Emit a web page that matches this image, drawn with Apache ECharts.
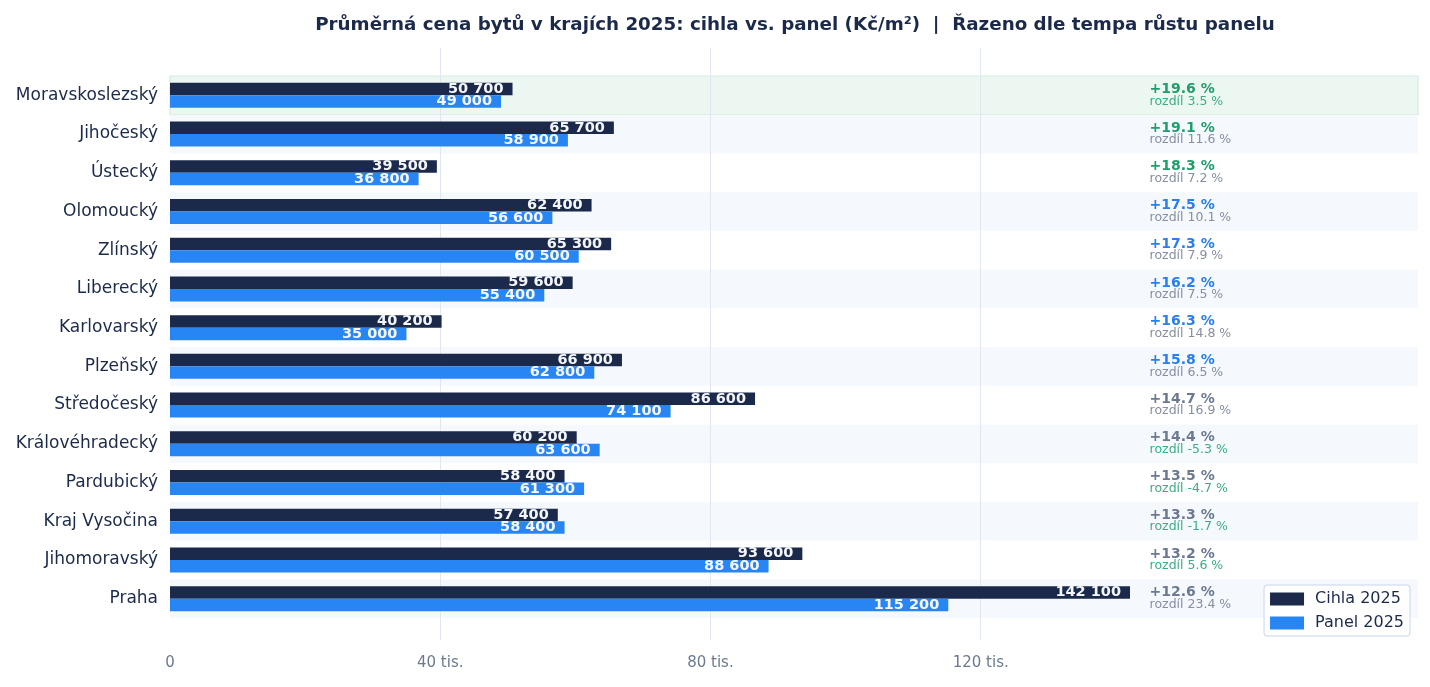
<!DOCTYPE html>
<html>
<head>
<meta charset="utf-8">
<script src="https://cdn.jsdelivr.net/npm/echarts@6/dist/echarts.min.js"></script>
<style>
html,body{margin:0;padding:0;background:#fff;}
#chart{width:1430px;height:687px;}
</style>
</head>
<body>
<div id="chart"></div>
<script>
const regions = ['Moravskoslezský','Jihočeský','Ústecký','Olomoucký','Zlínský','Liberecký','Karlovarský','Plzeňský','Středočeský','Královéhradecký','Pardubický','Kraj Vysočina','Jihomoravský','Praha'];
const cihla2025 = [50700,65700,39500,62400,65300,59600,40200,66900,86600,60200,58400,57400,93600,142100];
const panel2025 = [49000,58900,36800,56600,60500,55400,35000,62800,74100,63600,61300,58400,88600,115200];
const panelGrowth = [19.6,19.1,18.3,17.5,17.3,16.2,16.3,15.8,14.7,14.4,13.5,13.3,13.2,12.6];
const rozdil = [3.5,11.6,7.2,10.1,7.9,7.5,14.8,6.5,16.9,-5.3,-4.7,-1.7,5.6,23.4];
const xTicks = [0,40000,80000,120000];

const FONT = 'DejaVu Sans';
const NAVY = '#1b2a4a';
const BLUE = '#2886f4';
const W = 1430, GL = 170, GR = 12;
const xMax = Math.max(...cihla2025) * 1.3;
const plotW = W - GL - GR;
const tickMax = xTicks[xTicks.length-1];
const grid2Right = W - GL - plotW * tickMax / xMax;
const annotX = 145000;

const fmt = v => String(v).replace(/\B(?=(\d{3})+(?!\d))/g, ' ');
const growthColor = g => g >= 18 ? '#1f9e6b' : (g >= 15 ? '#2680f0' : '#6b7a90');
const diffColor = d => d < 6 ? '#3aae82' : '#858fa0';

const chart = echarts.init(document.getElementById('chart'), null, {renderer:'canvas'});
const option = {
  backgroundColor:'#ffffff',
  animation:false,
  textStyle:{fontFamily:FONT},
  title:{
    text:'Průměrná cena bytů v krajích 2025: cihla vs. panel (Kč/m²)  |  Řazeno dle tempa růstu panelu',
    left: GL + plotW/2 - 4, top:11, textAlign:'center',
    textStyle:{fontFamily:FONT, fontSize:18.3, fontWeight:'bold', color:NAVY}
  },
  legend:{
    data:['Cihla 2025','Panel 2025'],
    orient:'vertical', right:20, bottom:51,
    icon:'rect',
    itemWidth:34, itemHeight:13, itemGap:8,
    padding:[6,6,5,6],
    backgroundColor:'#ffffff', borderColor:'#c9d5e8', borderWidth:1, borderRadius:3,
    textStyle:{fontFamily:FONT, fontSize:16, color:NAVY, padding:[0,0,0,6]},
    z: 10
  },
  grid:[
    {left:GL, right:GR, top:76, bottom:69},
    {left:GL, right:grid2Right, top:48, bottom:47}
  ],
  xAxis:[
    {gridIndex:0, type:'value', min:0, max:xMax, show:false},
    {gridIndex:1, type:'value', min:0, max:tickMax, interval:40000, z:1.5,
     axisLine:{show:false}, axisTick:{show:false},
     splitLine:{show:true, showMinLine:false, lineStyle:{color:'#e1e7f0', width:1}},
     axisLabel:{color:'#6b7a90', fontSize:15, fontFamily:FONT, margin:16,
       formatter: v => v === 0 ? '0' : (v/1000) + ' tis.'}}
  ],
  yAxis:[
    {gridIndex:0, type:'category', data:regions, inverse:true,
     axisLine:{show:false}, axisTick:{show:false}, splitLine:{show:false},
     axisLabel:{color:NAVY, fontSize:17, fontFamily:FONT, margin:12}},
    {gridIndex:1, type:'value', show:false}
  ],
  series:[
    {
      type:'custom', name:'bands', xAxisIndex:0, yAxisIndex:0, z:1, silent:true,
      data: regions.map((r,i)=>[0,i]),
      renderItem:(params, api)=>{
        const i = api.value(1);
        const c = api.coord([0, i]);
        const h = api.size([0,1])[1];
        const cs = params.coordSys;
        let fill = i === 0 ? '#ecf7f2' : (i % 2 === 1 ? '#f5f9fe' : 'rgba(255,255,255,0)');
        return {type:'rect', shape:{x:cs.x, y:c[1]-h/2, width:cs.width, height:h},
          style:{fill: fill, stroke: i===0 ? '#d4ece1' : null, lineWidth: i===0 ? 1.2 : 0}};
      }
    },
    {
      name:'Cihla 2025', type:'bar', xAxisIndex:0, yAxisIndex:0, data:cihla2025,
      barWidth:12.5, barGap:'0%', z:3,
      itemStyle:{color:NAVY},
      label:{show:true, position:'insideRight', distance:9, color:'#f4f6fa', fontSize:14.5, fontWeight:'bold', fontFamily:FONT,
        formatter:p=>fmt(p.value)}
    },
    {
      name:'Panel 2025', type:'bar', xAxisIndex:0, yAxisIndex:0, data:panel2025,
      barWidth:12.5, barGap:'0%', z:3,
      itemStyle:{color:BLUE},
      label:{show:true, position:'insideRight', distance:9, color:'#f4f6fa', fontSize:14.5, fontWeight:'bold', fontFamily:FONT,
        formatter:p=>fmt(p.value)}
    },
    {
      type:'custom', name:'annot', xAxisIndex:0, yAxisIndex:0, z:4, silent:true,
      data: regions.map((r,i)=>[annotX, i]),
      renderItem:(params, api)=>{
        const i = api.value(1);
        const p = api.coord([api.value(0), i]);
        const g = panelGrowth[i], d = rozdil[i];
        return {type:'group', children:[
          {type:'text', style:{x:p[0], y:p[1]-6, text:'+' + g.toFixed(1) + ' %', fill:growthColor(g),
            fontFamily:FONT, fontSize:14, fontWeight:'bold', align:'left', verticalAlign:'middle'}},
          {type:'text', style:{x:p[0], y:p[1]+6, text:'rozdíl ' + d.toFixed(1) + ' %', fill:diffColor(d),
            fontFamily:FONT, fontSize:12.5, fontWeight:'normal', align:'left', verticalAlign:'middle'}}
        ]};
      }
    }
  ]
};
chart.setOption(option);
</script>
</body>
</html>
